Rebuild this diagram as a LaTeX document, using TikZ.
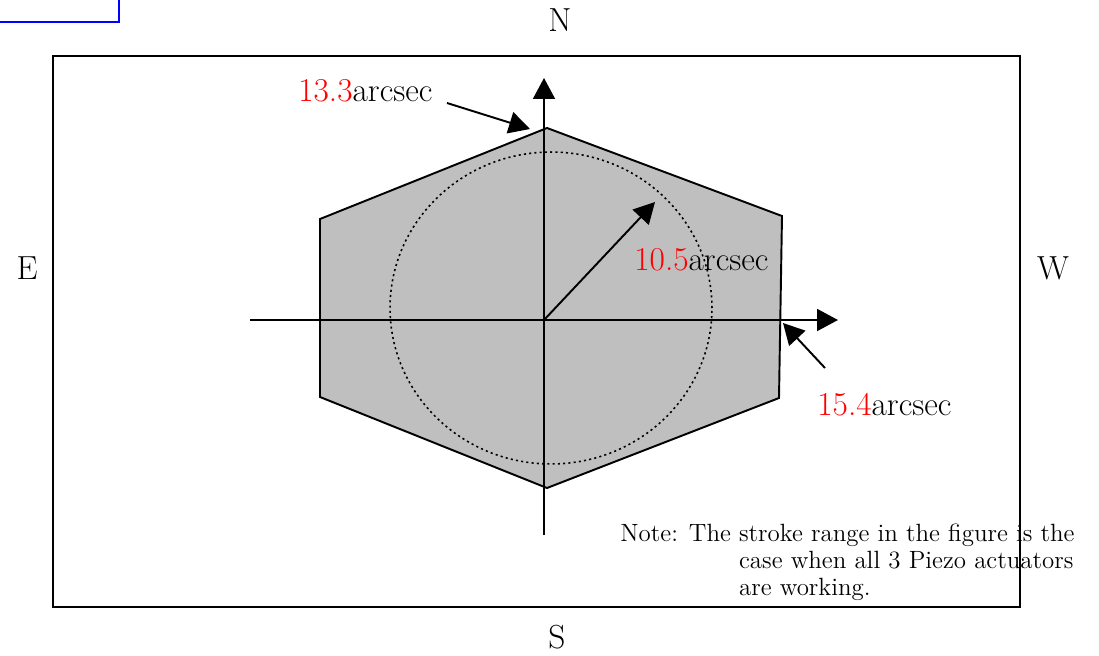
\documentclass[tikz,border=0pt]{standalone}
\usepackage{xcolor}
\usepackage{tikz}
\usetikzlibrary{arrows.meta}

\begin{document}
\begin{tikzpicture}[x=0.02cm, y=-0.02cm, font=\fontsize{19}{22}\selectfont,
    bigarrow/.style={-{Triangle[length=0.42cm, width=0.44cm]}, line width=1.1pt},
    label/.style={anchor=west, inner sep=0pt}]
    \useasboundingbox (0,0) rectangle (1099,656);

    % frame
    \draw[line width=1.1pt] (53,56) rectangle (1020,607);
    % cropped blue box
    \draw[blue, line width=0.6pt] (0,22) -- (119,22) -- (119,0);

    % hexagon
    \coordinate (top) at (547,128); \coordinate (ur) at (782,216);
    \coordinate (lr) at (779,398); \coordinate (bot) at (547,488);
    \coordinate (ll) at (320,397); \coordinate (ul) at (320,219);
    \filldraw[fill=black!25, line width=1.1pt] (top) -- (ur) -- (lr) -- (bot) -- (ll) -- (ul) -- cycle;

    % circle
    \draw[line width=0.9pt, dash pattern=on 1.2pt off 1.8pt] (551,308) ellipse [x radius=3.22cm, y radius=3.12cm];

    % axes
    \coordinate (o) at (544,320);
    \coordinate (xa) at (250,320); \coordinate (xb) at (838,320);
    \coordinate (ya) at (544,535); \coordinate (yb) at (544,78);
    \draw[bigarrow] (xa) -- (xb);
    \draw[bigarrow] (ya) -- (yb);

    % radius arrow
    \coordinate (r) at (655,202);
    \draw[bigarrow] (o) -- (r);

    % labels
    \node[label] (l133) at (298,91) {\textcolor{red}{13.3}arcsec};
    \coordinate (a133) at (447,103);
    \draw[bigarrow] (a133) -- (530,129);
    \node[label] (l105) at (634,260) {\textcolor{red}{10.5}arcsec};
    \node[label] (l154) at (817,405) {\textcolor{red}{15.4}arcsec};
    \coordinate (a154) at (825,368);
    \draw[bigarrow] (a154) -- (783,323);

    % directions
    \node[inner sep=0pt] (n) at (560,20) {N};
    \node[inner sep=0pt] (s) at (557,637) {S};
    \node[inner sep=0pt] (e) at (27,268) {E};
    \node[inner sep=0pt] (w) at (1053,268) {W};

    % note
    \node[anchor=north west, inner sep=0pt, font=\fontsize{14.2}{15.4}\selectfont] (note) at (620,522)
        {\begin{tabular}{@{}l@{ }l@{}}
            Note: The & stroke range in the figure is the\\
            & case when all 3 Piezo actuators\\
            & are working.
        \end{tabular}};

\end{tikzpicture}
\end{document}
